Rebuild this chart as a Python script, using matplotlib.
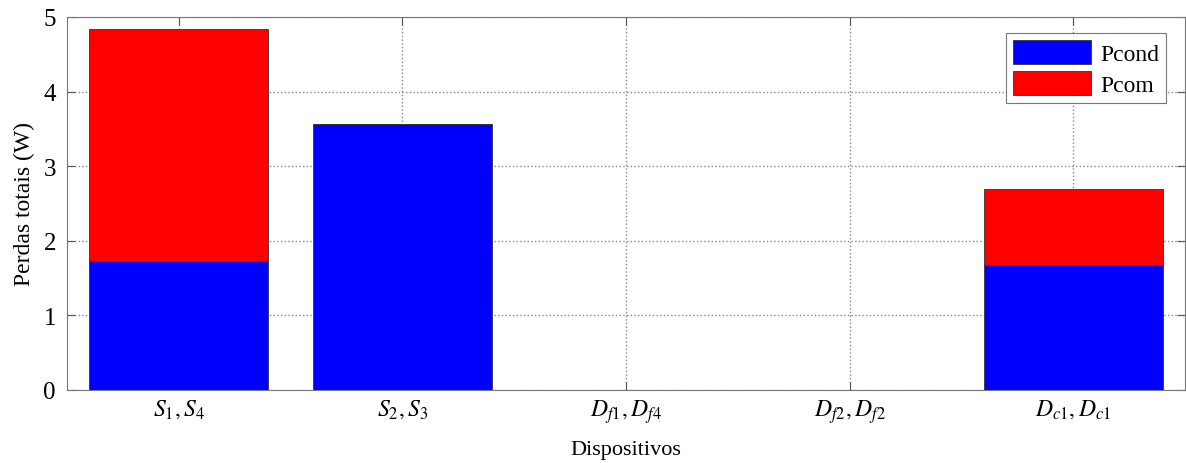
import matplotlib
matplotlib.use("Agg")
import matplotlib.pyplot as plt
import numpy as np

categories = [r"$S_1,S_4$", r"$S_2,S_3$", r"$D_{f1},D_{f4}$", r"$D_{f2},D_{f2}$", r"$D_{c1},D_{c1}$"]
pcond = [1.73, 3.57, 0.0, 0.0, 1.68]
pcom = [3.11, 0.0, 0.0, 0.0, 1.01]

plt.rcParams['font.family'] = 'Liberation Serif'
plt.rcParams['mathtext.fontset'] = 'stix'

fig = plt.figure(figsize=(11.86, 4.64), dpi=100)
ax = fig.add_axes([67/1186, 1 - 391/464, (1185 - 67)/1186, (391 - 18)/464])

x = np.arange(1, len(categories) + 1)
ax.bar(x, pcond, width=0.8, color='#0000ff', edgecolor='#333333', linewidth=0.6, label='Pcond')
ax.bar(x, pcom, width=0.8, bottom=pcond, color='#ff0000', edgecolor='#333333', linewidth=0.6, label='Pcom')

ax.set_xlim(0.5, 5.5)
ax.set_ylim(0, 5)
ax.set_xticks(x)
ax.set_xticklabels(categories, fontsize=17)
ax.set_yticks(range(0, 6))
ax.tick_params(axis='y', labelsize=18, pad=8)
ax.tick_params(axis='x', pad=5)
ax.tick_params(direction='in', length=6, color='#555555', top=True, right=True)
ax.set_axisbelow(True)
ax.grid(True, linestyle=':', color='#888888', linewidth=1.0)
for s in ax.spines.values():
    s.set_color('#777777')

ax.set_xlabel('Dispositivos', fontsize=16, labelpad=11)
ax.set_ylabel('Perdas totais (W)', fontsize=17, labelpad=6)

leg = ax.legend(loc='upper right', fontsize=17, fancybox=False, edgecolor='#555555',
                handlelength=3.3, handleheight=1.2, borderpad=0.3, labelspacing=0.25,
                handletextpad=0.4, bbox_to_anchor=(0.994, 0.99))
leg.get_frame().set_linewidth(0.8)

fig.savefig('out.png', dpi=100)
